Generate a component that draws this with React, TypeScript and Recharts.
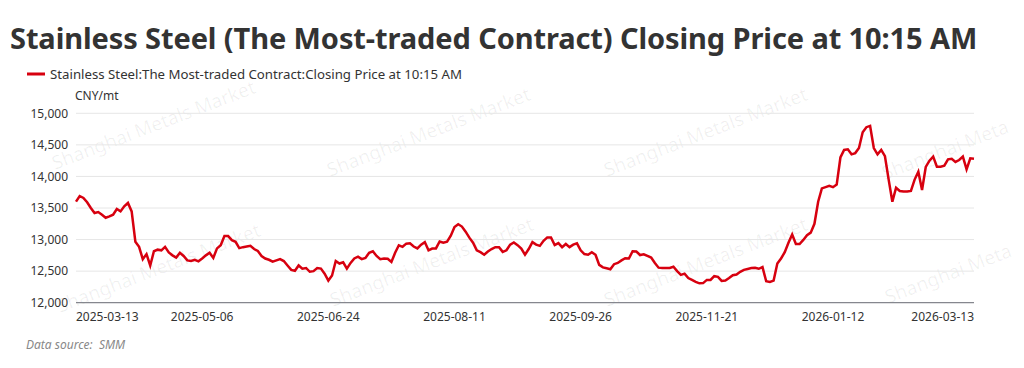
import React from 'react';
import { LineChart, Line, XAxis, YAxis, CartesianGrid } from 'recharts';

// trading calendar of the exchange (weekdays minus public holidays)
const startDate = '2025-03-13';
const endDate = '2026-03-13';
const holidays = [
  '2025-04-04', '2025-05-01', '2025-05-02', '2025-05-05', '2025-06-02',
  '2025-10-01', '2025-10-02', '2025-10-03', '2025-10-06', '2025-10-07', '2025-10-08',
  '2026-01-01', '2026-01-02',
  '2026-02-16', '2026-02-17', '2026-02-18', '2026-02-19', '2026-02-20', '2026-02-23',
];

// closing price at 10:15, CNY/mt, one value per trading day
const prices = [
  13600, 13690, 13660, 13590, 13500, 13420, 13436, 13393, 13345, 13366,
  13393, 13484, 13446, 13527, 13580, 13446, 12965, 12885, 12690, 12770,
  12590, 12815, 12840, 12830, 12885, 12795, 12750, 12715, 12790, 12740,
  12670, 12660, 12680, 12655, 12700, 12750, 12790, 12710, 12860, 12910,
  13055, 13055, 12990, 12965, 12865, 12880, 12890, 12900, 12850, 12820,
  12740, 12700, 12680, 12650, 12670, 12690, 12660, 12590, 12520, 12505,
  12590, 12540, 12550, 12490, 12500, 12550, 12540, 12460, 12350, 12430,
  12660, 12620, 12640, 12540, 12630, 12700, 12730, 12690, 12710, 12790,
  12815, 12740, 12690, 12700, 12695, 12645, 12790, 12910, 12885, 12935,
  12940, 12890, 12860, 12920, 12960, 12830, 12858, 12860, 12970, 12950,
  12965, 13060, 13200, 13243, 13206, 13125, 13030, 12950, 12830, 12800,
  12760, 12810, 12850, 12880, 12880, 12805, 12830, 12920, 12954, 12912,
  12858, 12760, 12850, 12960, 12920, 12900, 12980, 13034, 13034, 12912,
  12945, 12880, 12930, 12880, 12920, 12940, 12830, 12770, 12760, 12800,
  12760, 12600, 12560, 12545, 12530, 12610, 12630, 12670, 12705, 12700,
  12815, 12810, 12755, 12767, 12740, 12714, 12628, 12555, 12548, 12548,
  12550, 12570, 12500, 12440, 12460, 12390, 12360, 12330, 12307, 12310,
  12361, 12360, 12420, 12410, 12345, 12350, 12390, 12435, 12446, 12490,
  12520, 12535, 12550, 12553, 12537, 12564, 12340, 12330, 12350, 12620,
  12700, 12800, 12950, 13080, 12930, 12930, 12994, 13070, 13110, 13250,
  13600, 13810, 13830, 13850, 13830, 13870, 14300, 14420, 14430, 14350,
  14370, 14450, 14700, 14780, 14800, 14450, 14350, 14420, 14320, 13950,
  13600, 13820, 13770, 13760, 13760, 13770, 13950, 14076, 13786, 14150,
  14250, 14314, 14155, 14155, 14170, 14270, 14280, 14230, 14260, 14314,
  14113, 14287, 14280,
];

const xTicks = [
  '2025-03-13', '2025-05-06', '2025-06-24', '2025-08-11',
  '2025-09-26', '2025-11-21', '2026-01-12', '2026-03-13',
];
const yTicks = [12000, 12500, 13000, 13500, 14000, 14500, 15000];

const seriesName = 'Stainless Steel:The Most-traded Contract:Closing Price at 10:15 AM';

function tradingDays(from: string, to: string, skip: string[]) {
  const out: string[] = [];
  const d = new Date(from + 'T00:00:00Z');
  const end = new Date(to + 'T00:00:00Z');
  while (d <= end) {
    const iso = d.toISOString().slice(0, 10);
    const wd = d.getUTCDay();
    if (wd !== 0 && wd !== 6 && !skip.includes(iso)) out.push(iso);
    d.setUTCDate(d.getUTCDate() + 1);
  }
  return out;
}

const dates = tradingDays(startDate, endDate, holidays);
const data = dates.map((date, i) => ({ date, price: prices[i] }));

const FONT = '"Noto Sans", "Open Sans", sans-serif';

const XTick = (props: any) => {
  const { x, y, payload } = props;
  let anchor = 'middle';
  if (payload.value === xTicks[0]) anchor = 'start';
  if (payload.value === xTicks[xTicks.length - 1]) anchor = 'end';
  return (
    <text x={x} y={y} dy={10} textAnchor={anchor} fill="#333" fontSize={12} fontFamily={FONT}>
      {payload.value}
    </text>
  );
};

// faint tiled watermark, two rows (right column is cut by the edge)
const marks: [number, number, string][] = [
  [47, 162, 'Shanghai Metals Market'], [322, 169, 'Shanghai Metals Market'],
  [599, 169, 'Shanghai Metals Market'], [877, 172, 'Shanghai Meta'],
  [52, 305, 'Shanghai Metals Market'], [325, 299, 'Shanghai Metals Market'],
  [599, 299, 'Shanghai Metals Market'], [880, 296, 'Shanghai Meta'],
];

export default function App() {
  return (
    <div style={{ position: 'relative', width: 1008, height: 352, fontFamily: FONT }}>
      <svg width={1008} height={352} style={{ position: 'absolute', left: 0, top: 0 }}>
        {marks.map(([mx, my, label], i) => (
          <text
            key={i}
            x={mx}
            y={my}
            transform={`rotate(-21 ${mx} ${my})`}
            fontSize={19}
            fill="#000"
            fillOpacity={0.06}
            fontFamily={FONT}
          >
            {label}
          </text>
        ))}
        <text
          x={2}
          y={41}
          fontSize={29}
          fontWeight={700}
          letterSpacing={-0.1}
          fill="#333"
          fontFamily={FONT}
        >
          Stainless Steel (The Most-traded Contract) Closing Price at 10:15 AM
        </text>
        <line x1={19} x2={37} y1={66} y2={66} stroke="#d7000f" strokeWidth={3} />
        <text
          x={42}
          y={71}
          fontSize={13}
          fill="#333"
          fontFamily={FONT}
          textLength={412}
          lengthAdjust="spacingAndGlyphs"
        >
          {seriesName}
        </text>
        <text x={67} y={92} fontSize={12} fill="#333" fontFamily={FONT}>
          CNY/mt
        </text>
        <text x={18} y={341} fontSize={12} fill="#888" fontStyle="italic" fontFamily={FONT}>
          {'Data source:\u00a0\u00a0SMM'}
        </text>
      </svg>
      <div style={{ position: 'absolute', left: 0, top: 0 }}>
        <LineChart
          width={1008}
          height={330}
          data={data}
          margin={{ top: 105.3, right: 42, left: 0, bottom: 0 }}
        >
          <CartesianGrid vertical={false} stroke="#e6e6e6" />
          <XAxis
            dataKey="date"
            ticks={xTicks}
            interval={0}
            height={35.3}
            tick={<XTick />}
            tickLine={false}
            stroke="#6e7079"
          />
          <YAxis
            domain={[12000, 15000]}
            ticks={yTicks}
            width={68}
            axisLine={false}
            tickLine={false}
            tick={{ fill: '#333', fontSize: 12, fontFamily: FONT }}
            tickFormatter={(v: number) => v.toLocaleString('en-US')}
          />
          <Line
            type="linear"
            dataKey="price"
            name={seriesName}
            stroke="#d7000f"
            strokeWidth={2.5}
            dot={false}
            isAnimationActive={false}
          />
        </LineChart>
      </div>
    </div>
  );
}
